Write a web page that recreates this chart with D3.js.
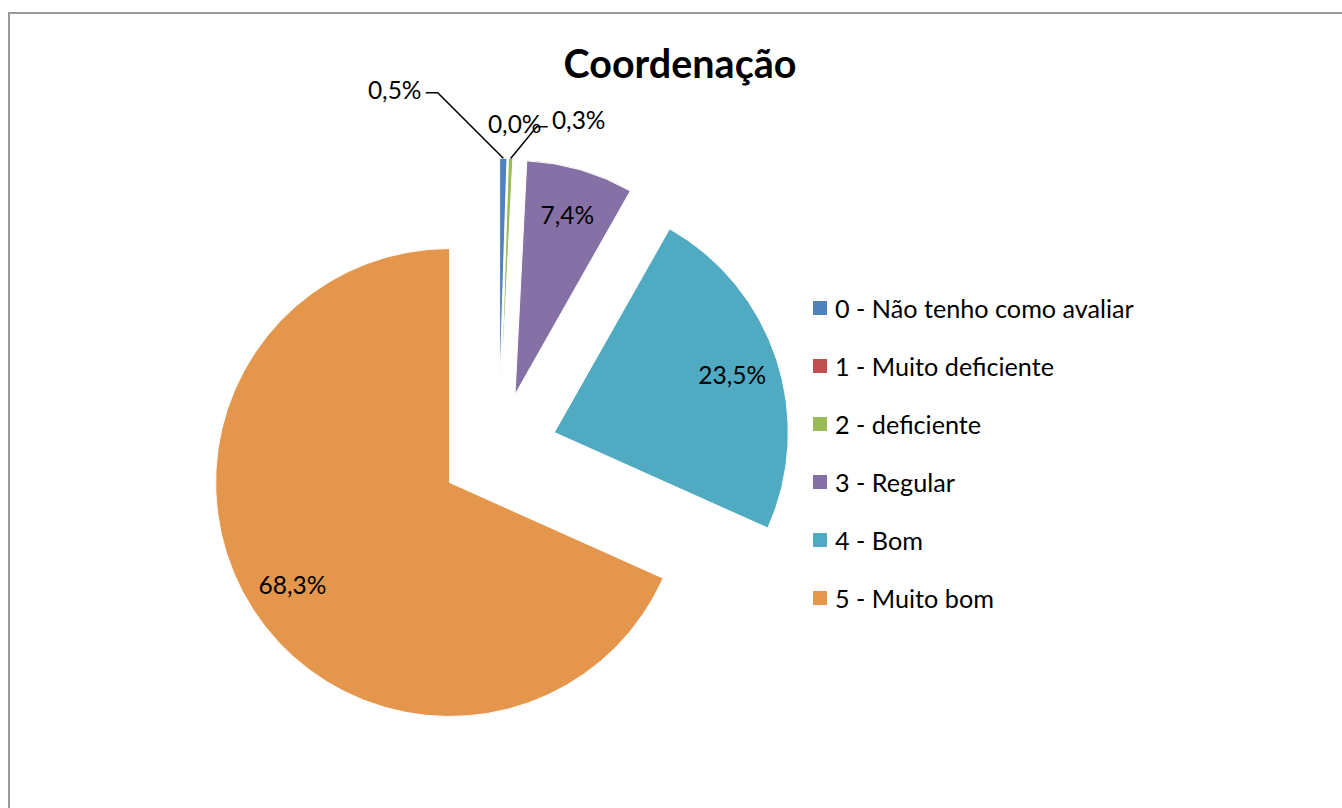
<!doctype html>
<html lang="pt">
<head>
  <meta charset="UTF-8">
  <script src="https://cdn.jsdelivr.net/npm/d3@7"></script>
  <title>Coordenação</title>
  <style>
    body{ margin:0; background:#fff; }
    svg text{ font-family: Lato, "Open Sans", sans-serif; fill:#000; }
  </style>
</head>
<body>
  <div class="chart"></div>
  <script>
    const categories = ['0 - Não tenho como avaliar', '1 - Muito deficiente', '2 - deficiente', '3 - Regular', '4 - Bom', '5 - Muito bom'];
    const values = [0.5, 0.0, 0.3, 7.4, 23.5, 68.3];
    const labels = ['0,5%', '0,0%', '0,3%', '7,4%', '23,5%', '68,3%'];
    const colors = ['#4F81BD', '#C0504D', '#9BBB59', '#8571A5', '#4FAAC2', '#E4974C'];

    const bxSize = {w:1342, h:808};
    const pie = {cx:498.7, cy:450.7, r:234, explode:0.25};
    // hand placed labels for the thin slices (offset from pie centre), like the original
    const outside = {
      0: {dx:-104, dy:-361, anchor:'middle', leader:[[-73,-358],[-61,-358]]},
      1: {dx:16, dy:-327, anchor:'middle'},
      2: {dx:80, dy:-331, anchor:'middle', leader:[[49,-324],[38,-324]]}
    };

    const svg = d3.select('.chart').append('svg')
      .attr('width', bxSize.w).attr('height', bxSize.h);

    svg.append('rect').attr('x', 9).attr('y', 13).attr('width', bxSize.w).attr('height', bxSize.h)
      .attr('fill', '#fff').attr('stroke', '#9a9a9a').attr('stroke-width', 2);

    svg.append('text').attr('x', 680).attr('y', 62).attr('text-anchor', 'middle')
      .attr('dominant-baseline', 'central').attr('font-size', 39.5).attr('font-weight', 'bold')
      .text('Coordenação');

    const arcs = d3.pie().sort(null).value(d => d)(values);
    const arc = d3.arc().innerRadius(0).outerRadius(pie.r);
    const labelArc = d3.arc().innerRadius(pie.r * 0.8).outerRadius(pie.r * 0.8);
    const edgeArc = d3.arc().innerRadius(pie.r).outerRadius(pie.r);
    const shift = d => {
      const m = (d.startAngle + d.endAngle) / 2;
      return [pie.explode * pie.r * Math.sin(m), -pie.explode * pie.r * Math.cos(m)];
    };

    const g = svg.append('g').attr('transform', `translate(${pie.cx} ${pie.cy})`);

    g.selectAll('path.slice').data(arcs).enter().append('path').classed('slice', true)
      .attr('transform', d => `translate(${shift(d)})`)
      .attr('d', arc)
      .attr('fill', (d, i) => colors[i])
      .attr('stroke', '#fff').attr('stroke-width', 1);

    arcs.forEach((d, i) => {
      const [sx, sy] = shift(d);
      if (outside[i]) {
        const o = outside[i];
        if (o.leader) {
          const e = edgeArc.centroid(d);
          const pts = o.leader.concat([[e[0] + sx, e[1] + sy]]);
          g.append('path').attr('d', d3.line()(pts))
            .attr('fill', 'none').attr('stroke', '#000').attr('stroke-width', 1.5);
        }
        g.append('text').attr('x', o.dx).attr('y', o.dy).attr('text-anchor', o.anchor)
          .attr('dominant-baseline', 'central').attr('font-size', 24.5).text(labels[i]);
      } else {
        const c = labelArc.centroid(d);
        g.append('text').attr('x', c[0] + sx).attr('y', c[1] + sy).attr('text-anchor', 'middle')
          .attr('dominant-baseline', 'central').attr('font-size', 24.5).text(labels[i]);
      }
    });

    const legend = svg.append('g').attr('transform', 'translate(813 308)');
    const rows = legend.selectAll('g').data(categories).enter().append('g')
      .attr('transform', (d, i) => `translate(0 ${i * 58})`);
    rows.append('rect').attr('x', 0).attr('y', -7).attr('width', 14).attr('height', 14)
      .attr('fill', (d, i) => colors[i]);
    rows.append('text').attr('x', 22).attr('y', 0).attr('dominant-baseline', 'central')
      .attr('font-size', 25.2).text(d => d);
  </script>
</body>
</html>
